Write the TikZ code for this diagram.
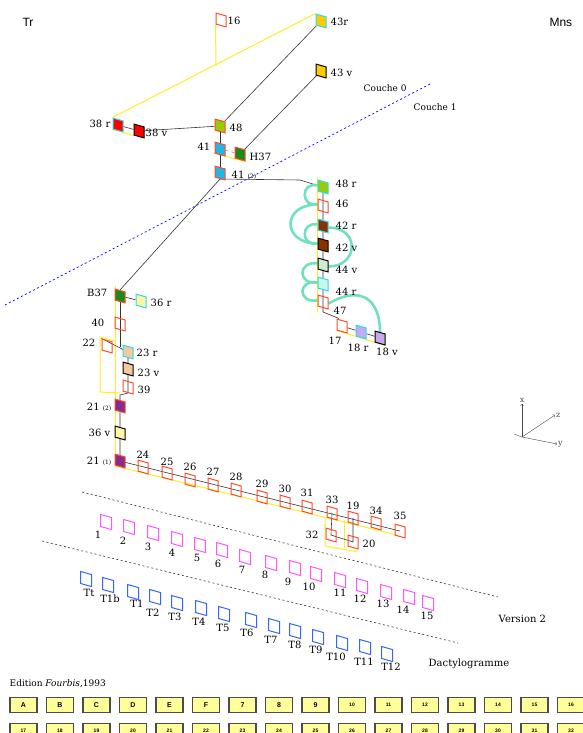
\documentclass[tikz,border=0pt]{standalone}
\usepackage{fontspec}
\setmainfont{DejaVu Serif}
\setsansfont{Liberation Sans}
\usepackage{tikz}
\usetikzlibrary{positioning}
\usetikzlibrary{backgrounds}
\usetikzlibrary{arrows}

\definecolor{sred}{HTML}{FF4A2A}
\definecolor{scyan}{HTML}{22DDEE}
\definecolor{gold}{HTML}{FFCC00}
\definecolor{ygreen}{HTML}{99CC00}
\definecolor{sky}{HTML}{22B5E8}
\definecolor{dgreen}{HTML}{1A8A1A}
\definecolor{brown}{HTML}{8B3300}
\definecolor{pgreen}{HTML}{CCEECC}
\definecolor{mint}{HTML}{CCF5E5}
\definecolor{lav}{HTML}{C8A8F0}
\definecolor{purp}{HTML}{8A2A8A}
\definecolor{peach}{HTML}{F5C8A0}
\definecolor{cream}{HTML}{FFF5A8}
\definecolor{vpink}{HTML}{FF55FF}
\definecolor{tblue}{HTML}{3366FF}
\definecolor{aqua}{HTML}{70E0C0}
\definecolor{lyel}{HTML}{FFEE22}
\definecolor{tabyel}{HTML}{FFFF99}

\tikzset{sheet/.style={draw=sred, minimum width=10pt, minimum height=11pt, inner sep=0pt, yslant=-0.28, line width=1pt}}
\tikzset{lbl/.style={font=\fontsize{10}{12}\selectfont, inner sep=0.5pt}}
\tikzset{link/.style={draw=black!80, line width=0.6pt}}
\tikzset{yel/.style={draw=lyel, line width=1pt}}
\tikzset{loopc/.style={draw=aqua, line width=2.6pt}}
\tikzset{tab/.style={draw=black!70, line width=1.3pt, fill=tabyel, minimum width=27pt, minimum height=15pt, inner sep=0pt, font=\sffamily\bfseries\fontsize{7}{8}\selectfont}}

\begin{document}
\begin{tikzpicture}[x=1pt,y=-1pt]
\useasboundingbox (0,0) rectangle (583,733);

\node[font=\sffamily\fontsize{12}{14}\selectfont] (tr) at (28,22) {Tr};
\node[font=\sffamily\fontsize{12}{14}\selectfont, anchor=west] (mns) at (546,22) {Mns};

% couche 0
\node[sheet] (n16) at (221,20) {};
\node[lbl, anchor=west] (l16) at (227,21) {16};
\node[sheet, draw=scyan, fill=gold] (n43r) at (321,21) {};
\node[lbl, anchor=west] (l43r) at (330,22) {43r};
\node[sheet, draw=black, fill=gold] (n43v) at (321,71) {};
\node[lbl, anchor=west] (l43v) at (330,73) {43 v};
\node[sheet, draw=scyan, fill=red] (n38r) at (118,125) {};
\node[lbl, anchor=east] (l38r) at (111,124) {38 r};
\node[sheet, draw=black, fill=red] (n38v) at (139,131) {};
\node[lbl, anchor=west] (l38v) at (145,133) {38 v};
\node[sheet, fill=ygreen] (n48) at (220,126) {};
\node[lbl, anchor=west] (l48) at (229,128) {48};
\node[sheet, fill=sky] (n41) at (220,149) {};
\node[lbl, anchor=east] (l41) at (211,147) {41};
\node[sheet, fill=dgreen] (nH37) at (240,154) {};
\node[lbl, anchor=west] (lH37) at (249,157) {H37};
\node[sheet, fill=sky] (n41b) at (220,173) {};
\node[lbl, anchor=west] (l41b) at (231,175) {41 {\fontsize{6}{7}\selectfont(2)}};

% couche 1
\node[sheet, draw=scyan, fill=ygreen] (n48r) at (323,187) {};
\node[sheet] (n46) at (323,206) {};
\node[sheet, draw=scyan, fill=brown] (n42r) at (323,226) {};
\node[sheet, draw=black, fill=brown] (n42v) at (323,245) {};
\node[sheet, draw=black, fill=pgreen] (n44v) at (323,265) {};
\node[sheet, draw=scyan, fill=mint] (n44r) at (323,284) {};
\node[sheet] (n47) at (323,302) {};
\node[lbl, anchor=west] (l48r) at (335,184) {48 r};
\node[lbl, anchor=west] (l46) at (335,204) {46};
\node[lbl, anchor=west] (l42r) at (335,226) {42 r};
\node[lbl, anchor=west] (l42v) at (335,248) {42 v};
\node[lbl, anchor=west] (l44v) at (335,270) {44 v};
\node[lbl, anchor=west] (l44r) at (335,292) {44 r};
\node[lbl, anchor=west] (l47) at (333,311) {47};
\node[sheet] (n17) at (342,326) {};
\node[sheet, draw=scyan, fill=lav] (n18r) at (361,332) {};
\node[sheet, draw=black, fill=lav] (n18v) at (380,338) {};
\node[lbl] (l17) at (335,341) {17};
\node[lbl] (l18r) at (358,348) {18 r};
\node[lbl] (l18v) at (387,352) {18 v};

\node[sheet, fill=dgreen] (nB37) at (120,296) {};
\node[lbl, anchor=east] (lB37) at (108,293) {B37};
\node[sheet, draw=scyan, fill=cream] (n36r) at (141,301) {};
\node[lbl, anchor=west] (l36r) at (150,303) {36 r};
\node[sheet] (n40) at (120,324) {};
\node[lbl, anchor=east] (l40) at (105,323) {40};
\node[sheet] (n22) at (107,346) {};
\node[lbl, anchor=east] (l22) at (96,343) {22};
\node[sheet, draw=scyan, fill=peach] (n23r) at (128,352) {};
\node[lbl, anchor=west] (l23r) at (136,353) {23 r};
\node[sheet, draw=black, fill=peach] (n23v) at (128,369) {};
\node[lbl, anchor=west] (l23v) at (137,373) {23 v};
\node[sheet] (n39) at (128,387) {};
\node[lbl, anchor=west] (l39) at (137,390) {39};
\node[sheet, fill=purp] (n21b) at (120,406) {};
\node[lbl, anchor=east] (l21b) at (112,407) {21 {\fontsize{6}{7}\selectfont(2)}};
\node[sheet, draw=black, fill=cream] (n36v) at (120,433) {};
\node[lbl, anchor=east] (l36v) at (111,433) {36 v};
\node[sheet, fill=purp] (n21a) at (120,461) {};
\node[lbl, anchor=east] (l21a) at (112,461) {21 {\fontsize{6}{7}\selectfont(1)}};

\foreach \n/\x/\y/\ly in {24/143/467/455, 25/167/473/462, 26/190/480/467, 27/213/485/472, 28/236/490/477, 29/262/497/484, 30/285/502/489, 31/307/507/493, 33/332/513/500, 19/353/518/506, 34/376/523/511, 35/400/531/516} {
\node[sheet] (n\n) at (\x,\y) {};
\node[lbl] (l\n) at (\x,\ly) {\n};
}
\node[sheet] (n32) at (331,535) {};
\node[lbl] (l32) at (312,535) {32};
\node[sheet] (n20) at (353,542) {};
\node[lbl] (l20) at (369,544) {20};

% version 2
\foreach \n/\x/\y/\lx/\ly in {1/106/522/98/535, 2/129/527/123/541, 3/153/533/148/547, 4/177/539/172/553, 5/200/545/197/558, 6/222/550/218/564, 7/245/557/242/570, 8/271/563/265/575, 9/295/568/288/582, 10/316/574/309/587, 11/340/580/340/593, 12/362/586/360/599, 13/386/592/383/604, 14/409/597/403/610, 15/428/603/427/616} {
\node[sheet, draw=vpink, minimum width=11pt, minimum height=12pt] (v\n) at (\x,\y) {};
\node[lbl] (lv\n) at (\lx,\ly) {\n};
}
% dactylogramme
\foreach \n/\x/\y/\lx/\ly in {Tt/86/579/89/593, T1b/108/585/110/599, T1/133/592/137/604, T2/155/597/153/613, T3/177/603/175/617, T4/201/608/199/622, T5/224/614/223/628, T6/251/620/247/633, T7/274/626/271/640, T8/295/631/295/645, T9/318/637/316/650, T10/342/643/336/657, T11/365/647/364/662, T12/387/654/391/667} {
\node[sheet, draw=tblue, minimum width=11pt, minimum height=12pt] (d\n) at (\x,\y) {};
\node[lbl] (ld\n) at (\lx,\ly) {\n};
}

\node[lbl, anchor=west, font=\fontsize{9}{11}\selectfont] (c0) at (363,88) {Couche 0};
\node[lbl, anchor=west, font=\fontsize{9}{11}\selectfont] (c1) at (413,107) {Couche 1};
\node[lbl, anchor=west] (ver) at (498,619) {Version 2};
\node[lbl, anchor=west] (dac) at (428,664) {Dactylogramme};
\node[lbl, anchor=west, font=\fontsize{9}{11}\selectfont] (edi) at (9,684) {Edition \textit{Fourbis},1993};

% axes
\coordinate (o) at (522,437);
\draw[->, black!70] (o) -- (522,404) node[above, font=\fontsize{8}{9}\selectfont, inner sep=1pt] (ax) {x};
\draw[->, black!70] (o) -- (555,415) node[right, font=\fontsize{8}{9}\selectfont, inner sep=1pt] (az) {z};
\draw[->, black!70] (o) -- (557,444) node[right, font=\fontsize{8}{9}\selectfont, inner sep=1pt] (ay) {y};
\draw[black!70] (514,434) -- (o);

% edition
\foreach \t [count=\i from 0] in {A,B,C,D,E,F,7,8,9} {
\node[tab] (ta\i) at (23.5+36.5*\i,705) {\t};
}
\foreach \t [count=\i from 9] in {10,11,12,13,14,15,16} {
\node[tab, font=\sffamily\bfseries\fontsize{5}{6}\selectfont] (ta\i) at (23.5+36.5*\i,705) {\t};
}
\foreach \t [count=\i from 0] in {17,18,19,20,21,22,23,24,25,26,27,28,29,30,31,32} {
\node[tab, font=\sffamily\bfseries\fontsize{5}{6}\selectfont] (tb\i) at (23.5+36.5*\i,731) {\t};
}

\begin{scope}[on background layer]
\draw[blue, dash pattern=on 2pt off 2.5pt, line width=0.7pt] (5,305) -- (432,83);
\draw[black!80, dash pattern=on 2pt off 2.5pt, line width=0.6pt] (82,492) -- (498,597);
\draw[black!80, dash pattern=on 2pt off 2.5pt, line width=0.6pt] (42,541) -- (458,643);
% yellow
\coordinate (k16) at (216,66);
\draw[yel] (n43r.north west) -- (n38r.north west);
\draw[yel] (n16.south west) -- (k16);
\draw[yel] (n38r.south west) -- (n38v.south west);
\draw[yel] (n41.south west) -- (nH37.south east);
\draw[yel] (317,177) -- (317,312);
\draw[yel] (n17.south west) -- (n18v.south east);
\draw[yel] (115,286) -- (115,466);
\draw[yel] (115,341) -- (100,337) -- (100,392) -- (120,393);
\draw[yel] (115,466) -- (397,535);
\draw[yel] (325,518) -- (325,546) -- (358,552);
\draw[yel] (344,520) -- (344,548);
% black
\draw[link] (n43r) -- (n48);
\draw[link] (n43v) -- (nH37);
\draw[link] (n38r) -- (n38v) -- (n48);
\draw[link] (n48.center) -- (n41b.center);
\draw[link, dashed, black!50] (n41) -- (nH37);
\draw[link] (n41b.south) -- (300,180) -- (n48r.west);
\draw[link] (n41b.south) -- (nB37.north);
\draw[link] (n48r.center) -- (323,312) -- (338,318) -- (n17);
\draw[link] (n17) -- (n18r) -- (n18v);
\draw[link] (nB37) -- (n36r);
\draw[link] (nB37.center) -- (120,347);
\draw[link] (n22.north west) -- (n23r.center) -- (128,393) -- (120,395) -- (n21a.center);
\draw[link] (n21a.center) -- (n35.center);
\draw[link] (n33.center) -- (n32.center) -- (n20.center) -- (n19.center);
% loops
\draw[loopc] (n48r.west) .. controls +(-17,-4) and +(-17,3) .. (n46.west);
\draw[loopc] (n46.west) .. controls +(-36,0) and +(-36,0) .. (n42v.west);
\draw[loopc] (n42r.west) .. controls +(-17,-3) and +(-17,3) .. (n42v.west);
\draw[loopc] (n44v.west) .. controls +(-20,-3) and +(-20,3) .. (n44r.west);
\draw[loopc] (n44r.west) .. controls +(-20,-3) and +(-20,3) .. (n47.west);
\draw[loopc] (n42r.east) .. controls +(32,0) and +(30,0) .. (n44v.east);
\draw[loopc] (n47.east) .. controls +(35,-20) and +(0,-30) .. (n18v.north);
\end{scope}
\end{tikzpicture}
\end{document}
